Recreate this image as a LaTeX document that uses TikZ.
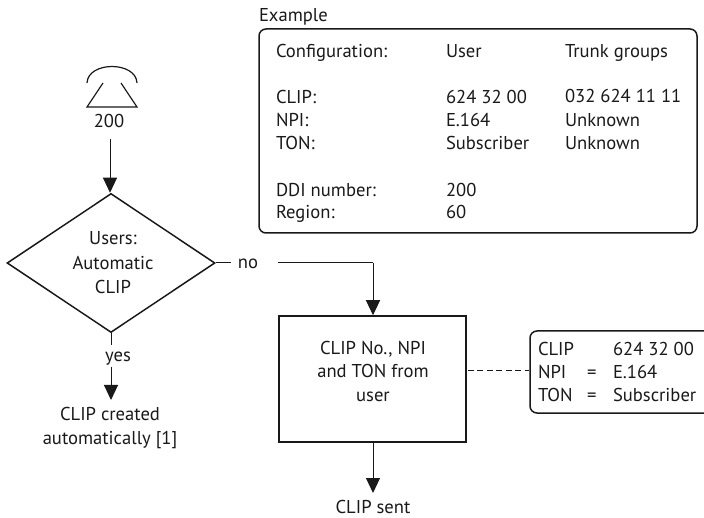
\documentclass[tikz,border=0pt]{standalone}
\usepackage{fontspec}
\setmainfont{PT Sans}
\usetikzlibrary{arrows.meta,shapes.geometric}
\tikzset{
  conn/.style={draw=black!90,line width=1pt},
  arr/.style={conn,-{Triangle[length=15pt,width=14pt]}},
  txt/.style={inner sep=0pt,outer sep=0pt,font=\fontsize{18.6}{23.5}\selectfont,text=black!90},
  lbl/.style={txt,anchor=base west},
  ctr/.style={txt,align=center},
  panel/.style={draw=black!90,line width=1.5pt,rounded corners=7pt},
}
\begin{document}
\begin{tikzpicture}[x=1pt,y=-1pt]
\useasboundingbox (0,0) rectangle (704,518);
% phone
\draw[line width=1.2pt,black!90] (87,83) .. controls (88,61) and (136,61) .. (137,83);
\draw[line width=1.2pt,black!90,line join=miter] (103,83) -- (87,107) -- (137,107) -- (121,83);
\node[ctr] (ext) at (109,121) {200};
% decision
\node[diamond,draw=black!90,line width=1.5pt,minimum width=208pt,minimum height=139pt,shape aspect=1.496,inner sep=0pt] (dec) at (111,263) {};
\node[ctr] (dectxt) at (113,263) {Users:\\[1pt]Automatic\\[1pt]CLIP};
\node[txt,anchor=base] (no) at (248,269) {no};
\node[txt,anchor=base] (yes) at (118,362) {yes};
\coordinate (arrtop) at (110,139);
\coordinate (noa) at (231,263);
\coordinate (nob) at (278,263);
\coordinate (nobend) at (373,263);
\coordinate (yesa) at (111,345);
\coordinate (yesb) at (111,367);
\coordinate (yestip) at (111,400);
\node[ctr,anchor=north] (auto) at (110,407.5) {CLIP created\\automatically [1]};
% process
\node[draw=black!90,line width=1.5pt,minimum width=187pt,minimum height=126pt,inner sep=0pt] (proc) at (372.5,379) {};
\node[ctr] (proctxt) at (373,371) {CLIP No., NPI\\and TON from\\user};
\coordinate (sentTip) at (373,493);
\node[ctr,anchor=north] (sent) at (373,500) {CLIP sent};
% callout
\draw[panel] (530,413) -- (530,331) -- (720,331) -- (720,413) -- cycle;
\coordinate (callout) at (529,371);
\node[lbl] (c1) at (538,355.5) {CLIP};
\node[lbl] (c2) at (538,378.5) {NPI};
\node[lbl] (c3) at (538,401.5) {TON};
\node[lbl] (ce2) at (587,378.5) {=};
\node[lbl] (ce3) at (587,401.5) {=};
\node[lbl] (v1) at (613,355.5) {624 32 00};
\node[lbl] (v2) at (613,378.5) {E.164};
\node[lbl] (v3) at (613,401.5) {Subscriber};
% example
\node[lbl] (ex) at (259,21.5) {Example};
\draw[panel] (259,29) rectangle (697,233);
\node[lbl] at (276,58) {Configuration:};
\node[lbl] at (446,58) {User};
\node[lbl] at (565,58) {Trunk groups};
\node[lbl] at (276,104) {CLIP:};
\node[lbl] at (446,104) {624 32 00};
\node[lbl] at (565,103) {032 624 11 11};
\node[lbl] at (276,127) {NPI:};
\node[lbl] at (446,127) {E.164};
\node[lbl] at (565,127) {Unknown};
\node[lbl] at (276,150) {TON:};
\node[lbl] at (446,150) {Subscriber};
\node[lbl] at (565,150) {Unknown};
\node[lbl] at (276,197) {DDI number:};
\node[lbl] at (446,197) {200};
\node[lbl] at (276,219) {Region:};
\node[lbl] at (446,219) {60};
% connectors
\draw[arr] (arrtop) -- (arrtop |- dec.north);
\draw[conn] (dec.east) -- (noa);
\draw[conn] (nob) -- (nobend);
\draw[arr] (nobend) -- (nobend |- proc.north);
\draw[conn] (dec.south) -- (yesa);
\draw[arr] (yesb) -- (yestip);
\draw[arr] (proc.south -| sentTip) -- (sentTip);
\draw[conn,dash pattern=on 6pt off 3.5pt] (proc.east) ++(1,-8) -- (callout);
\end{tikzpicture}
\end{document}
